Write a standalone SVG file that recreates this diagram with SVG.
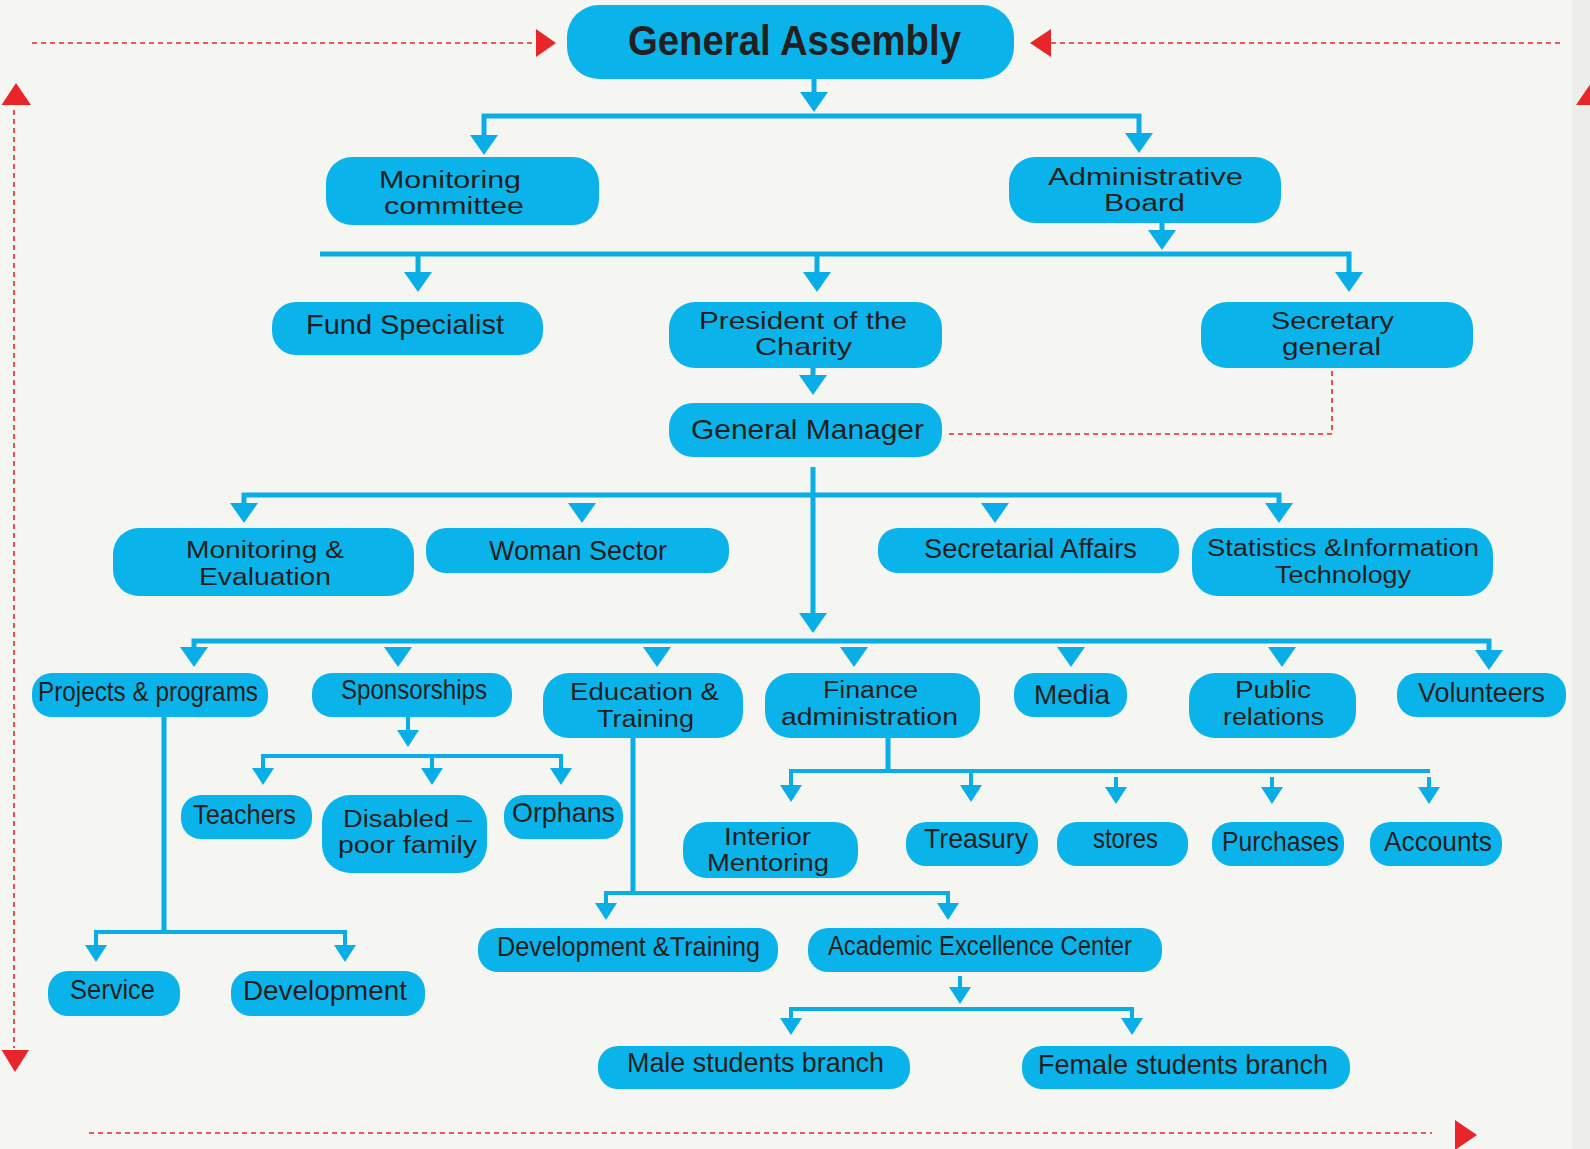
<svg xmlns="http://www.w3.org/2000/svg" xmlns:xlink="http://www.w3.org/1999/xlink" width="1590" height="1149" viewBox="0 0 1590 1149">
<style>
.box{fill:#0ab4ea}
.t{font-family:"Liberation Sans",Arial,sans-serif;font-size:28px;fill:#231f20;text-anchor:middle}
.t2{font-family:"Liberation Sans",Arial,sans-serif;font-size:23px;fill:#231f20;text-anchor:middle}
.tb{font-family:"Liberation Sans",Arial,sans-serif;font-size:42px;font-weight:bold;fill:#231f20;text-anchor:middle}
.ln{stroke:#0aaee6;stroke-width:5;fill:none}
.lns{stroke:#0aaee6;stroke-width:4;fill:none}
.ah{fill:#0aaee6}
.red{stroke:#e8262a;stroke-width:1.6;stroke-dasharray:5 4;fill:none}
.redf{fill:#e8262a}
</style>
<defs>
<path id="a" class="ah" d="M-14,0 L14,0 L0,20 Z"/>
<path id="s" class="ah" d="M-11,0 L11,0 L0,17 Z"/>
</defs>
<rect x="0" y="0" width="1590" height="1149" fill="#f5f5f2"/>
<rect x="1572" y="0" width="18" height="1149" fill="#ededea"/>

<g id="frame">
<path class="red" d="M32,43 H536"/>
<polygon class="redf" points="536,29 556,43 536,57"/>
<path class="red" d="M1051,43 H1563"/>
<polygon class="redf" points="1051,29 1030,43 1051,57"/>
<path class="red" d="M14,110 V1048"/>
<polygon class="redf" points="1.5,105 31,105 16,83"/>
<polygon class="redf" points="1.5,1050 29,1050 15,1072"/>
<polygon class="redf" points="1576,105 1606,105 1591,83"/>
<path class="red" d="M89,1133 H1432"/>
<polygon class="redf" points="1455,1120 1477,1135 1455,1150"/>
</g>

<g id="connectors">
<path class="ln" d="M814,79 V92"/>
<use href="#a" x="814" y="92"/>
<path class="ln" d="M484,137 V116 H1139 V135"/>
<use href="#a" x="484" y="135"/>
<use href="#a" x="1139" y="133"/>
<path class="ln" d="M1162,218 V231"/>
<use href="#a" x="1162" y="230"/>
<path class="ln" d="M320,254 H1349 V273"/>
<path class="ln" d="M418,254 V273"/>
<path class="ln" d="M817,254 V273"/>
<use href="#a" x="418" y="272"/>
<use href="#a" x="817" y="272"/>
<use href="#a" x="1349" y="272"/>
<path class="ln" d="M813,362 V376"/>
<use href="#a" x="813" y="375"/>
<path class="red" d="M1332,362 V434 H948"/>
<path class="ln" d="M813,467 V614"/>
<use href="#a" x="813" y="613"/>
<path class="ln" d="M244,504 V495 H1279 V504"/>
<use href="#a" x="244" y="503"/>
<use href="#a" x="582" y="503"/>
<use href="#a" x="995" y="503"/>
<use href="#a" x="1279" y="503"/>
<path class="ln" d="M194,648 V641 H1489 V651"/>
<use href="#a" x="194" y="647"/>
<use href="#a" x="398" y="647"/>
<use href="#a" x="657" y="647"/>
<use href="#a" x="854" y="647"/>
<use href="#a" x="1071" y="647"/>
<use href="#a" x="1282" y="647"/>
<use href="#a" x="1489" y="650"/>
<path class="ln" d="M164,717 V932"/>
<path class="lns" d="M96,946 V932 H345 V946"/>
<use href="#s" x="96" y="945"/>
<use href="#s" x="345" y="945"/>
<path class="lns" d="M408,717 V731"/>
<use href="#s" x="408" y="730"/>
<path class="lns" d="M263,769 V756 H561 V769 M432,756 V769"/>
<use href="#s" x="263" y="768"/>
<use href="#s" x="432" y="768"/>
<use href="#s" x="561" y="768"/>
<path class="ln" d="M633,738 V893"/>
<path class="lns" d="M606,904 V893 H948 V904"/>
<use href="#s" x="606" y="903"/>
<use href="#s" x="948" y="903"/>
<path class="ln" d="M888,738 V771"/>
<path class="lns" d="M791,786 V771 H1430 M971,771 V786 M1116,777 V788 M1272,777 V788 M1429,777 V788"/>
<use href="#s" x="791" y="785"/>
<use href="#s" x="971" y="785"/>
<use href="#s" x="1116" y="787"/>
<use href="#s" x="1272" y="787"/>
<use href="#s" x="1429" y="787"/>
<path class="lns" d="M960,976 V988"/>
<use href="#s" x="960" y="987"/>
<path class="lns" d="M791,1019 V1009 H1132 V1019"/>
<use href="#s" x="791" y="1018"/>
<use href="#s" x="1132" y="1018"/>
</g>

<g id="general-assembly"><rect class="box" x="567" y="5" width="447" height="74" rx="32"/><text class="tb" x="794.5" y="55" textLength="333" lengthAdjust="spacingAndGlyphs">General Assembly</text></g>
<g id="monitoring-committee"><rect class="box" x="326" y="157" width="273" height="68" rx="26"/><text class="t2" x="450" y="188" textLength="142" lengthAdjust="spacingAndGlyphs">Monitoring</text><text class="t2" x="454" y="214" textLength="140" lengthAdjust="spacingAndGlyphs">committee</text></g>
<g id="administrative-board"><rect class="box" x="1009" y="157" width="272" height="66" rx="26"/><text class="t2" x="1145.5" y="185" textLength="195" lengthAdjust="spacingAndGlyphs">Administrative</text><text class="t2" x="1144.5" y="211" textLength="81" lengthAdjust="spacingAndGlyphs">Board</text></g>
<g id="fund-specialist"><rect class="box" x="272" y="302" width="271" height="53" rx="24"/><text class="t" x="405" y="334" textLength="198" lengthAdjust="spacingAndGlyphs">Fund Specialist</text></g>
<g id="president"><rect class="box" x="669" y="302" width="273" height="66" rx="26"/><text class="t2" x="803" y="329" textLength="208" lengthAdjust="spacingAndGlyphs">President of the</text><text class="t2" x="803.5" y="355" textLength="97" lengthAdjust="spacingAndGlyphs">Charity</text></g>
<g id="secretary-general"><rect class="box" x="1201" y="302" width="272" height="66" rx="26"/><text class="t2" x="1332.5" y="329" textLength="123" lengthAdjust="spacingAndGlyphs">Secretary</text><text class="t2" x="1331.5" y="355" textLength="99" lengthAdjust="spacingAndGlyphs">general</text></g>
<g id="general-manager"><rect class="box" x="669" y="403" width="273" height="54" rx="24"/><text class="t" x="807.5" y="439" textLength="233" lengthAdjust="spacingAndGlyphs">General Manager</text></g>
<g id="monitoring-evaluation"><rect class="box" x="113" y="528" width="301" height="68" rx="26"/><text class="t2" x="265" y="558" textLength="158" lengthAdjust="spacingAndGlyphs">Monitoring &amp;</text><text class="t2" x="265" y="585" textLength="132" lengthAdjust="spacingAndGlyphs">Evaluation</text></g>
<g id="woman-sector"><rect class="box" x="426" y="528" width="303" height="45" rx="20"/><text class="t" x="578" y="560" textLength="178" lengthAdjust="spacingAndGlyphs">Woman Sector</text></g>
<g id="secretarial-affairs"><rect class="box" x="878" y="528" width="301" height="45" rx="20"/><text class="t" x="1030.5" y="558" textLength="213" lengthAdjust="spacingAndGlyphs">Secretarial Affairs</text></g>
<g id="statistics-it"><rect class="box" x="1192" y="528" width="301" height="68" rx="26"/><text class="t2" x="1343" y="556" textLength="272" lengthAdjust="spacingAndGlyphs">Statistics &amp;Information</text><text class="t2" x="1343" y="583" textLength="136" lengthAdjust="spacingAndGlyphs">Technology</text></g>
<g id="projects-programs"><rect class="box" x="32" y="673" width="236" height="44" rx="20"/><text class="t" x="148" y="701" textLength="220" lengthAdjust="spacingAndGlyphs">Projects &amp; programs</text></g>
<g id="sponsorships"><rect class="box" x="312" y="673" width="200" height="44" rx="20"/><text class="t" x="414" y="699" textLength="146" lengthAdjust="spacingAndGlyphs">Sponsorships</text></g>
<g id="education-training"><rect class="box" x="543" y="673" width="200" height="65" rx="26"/><text class="t2" x="644.5" y="700" textLength="149" lengthAdjust="spacingAndGlyphs">Education &amp;</text><text class="t2" x="645.5" y="727" textLength="97" lengthAdjust="spacingAndGlyphs">Training</text></g>
<g id="finance-administration"><rect class="box" x="765" y="673" width="215" height="65" rx="26"/><text class="t2" x="870.5" y="698" textLength="95" lengthAdjust="spacingAndGlyphs">Finance</text><text class="t2" x="869.5" y="725" textLength="177" lengthAdjust="spacingAndGlyphs">administration</text></g>
<g id="media"><rect class="box" x="1014" y="673" width="113" height="44" rx="20"/><text class="t" x="1072" y="704" textLength="76" lengthAdjust="spacingAndGlyphs">Media</text></g>
<g id="public-relations"><rect class="box" x="1189" y="673" width="167" height="65" rx="26"/><text class="t2" x="1273" y="698" textLength="76" lengthAdjust="spacingAndGlyphs">Public</text><text class="t2" x="1273.5" y="725" textLength="101" lengthAdjust="spacingAndGlyphs">relations</text></g>
<g id="volunteers"><rect class="box" x="1397" y="673" width="169" height="44" rx="20"/><text class="t" x="1481.5" y="702" textLength="127" lengthAdjust="spacingAndGlyphs">Volunteers</text></g>
<g id="teachers"><rect class="box" x="181" y="795" width="131" height="44" rx="20"/><text class="t" x="244.5" y="824" textLength="103" lengthAdjust="spacingAndGlyphs">Teachers</text></g>
<g id="disabled-poor-family"><rect class="box" x="322" y="795" width="165" height="78" rx="28"/><text class="t2" x="407.5" y="827" textLength="129" lengthAdjust="spacingAndGlyphs">Disabled –</text><text class="t2" x="407.5" y="853" textLength="139" lengthAdjust="spacingAndGlyphs">poor family</text></g>
<g id="orphans"><rect class="box" x="504" y="795" width="119" height="44" rx="20"/><text class="t" x="563.5" y="822" textLength="103" lengthAdjust="spacingAndGlyphs">Orphans</text></g>
<g id="interior-mentoring"><rect class="box" x="683" y="822" width="175" height="56" rx="24"/><text class="t2" x="767.5" y="845" textLength="87" lengthAdjust="spacingAndGlyphs">Interior</text><text class="t2" x="768" y="871" textLength="122" lengthAdjust="spacingAndGlyphs">Mentoring</text></g>
<g id="treasury"><rect class="box" x="906" y="822" width="132" height="44" rx="20"/><text class="t" x="976" y="848" textLength="104" lengthAdjust="spacingAndGlyphs">Treasury</text></g>
<g id="stores"><rect class="box" x="1057" y="822" width="131" height="44" rx="20"/><text class="t" x="1125.5" y="848" textLength="65" lengthAdjust="spacingAndGlyphs">stores</text></g>
<g id="purchases"><rect class="box" x="1212" y="822" width="132" height="44" rx="20"/><text class="t" x="1280.5" y="851" textLength="117" lengthAdjust="spacingAndGlyphs">Purchases</text></g>
<g id="accounts"><rect class="box" x="1370" y="822" width="132" height="44" rx="20"/><text class="t" x="1438" y="851" textLength="108" lengthAdjust="spacingAndGlyphs">Accounts</text></g>
<g id="service"><rect class="box" x="48" y="971" width="132" height="45" rx="20"/><text class="t" x="112.5" y="999" textLength="85" lengthAdjust="spacingAndGlyphs">Service</text></g>
<g id="development"><rect class="box" x="231" y="971" width="194" height="45" rx="20"/><text class="t" x="325" y="1000" textLength="164" lengthAdjust="spacingAndGlyphs">Development</text></g>
<g id="development-training"><rect class="box" x="478" y="928" width="300" height="44" rx="20"/><text class="t" x="628.5" y="956" textLength="263" lengthAdjust="spacingAndGlyphs">Development &amp;Training</text></g>
<g id="academic-excellence-center"><rect class="box" x="808" y="928" width="354" height="44" rx="20"/><text class="t" x="980" y="955" textLength="304" lengthAdjust="spacingAndGlyphs">Academic Excellence Center</text></g>
<g id="male-students-branch"><rect class="box" x="598" y="1046" width="312" height="43" rx="20"/><text class="t" x="755.5" y="1072" textLength="257" lengthAdjust="spacingAndGlyphs">Male students branch</text></g>
<g id="female-students-branch"><rect class="box" x="1022" y="1046" width="328" height="43" rx="20"/><text class="t" x="1183" y="1074" textLength="290" lengthAdjust="spacingAndGlyphs">Female students branch</text></g>
</svg>
